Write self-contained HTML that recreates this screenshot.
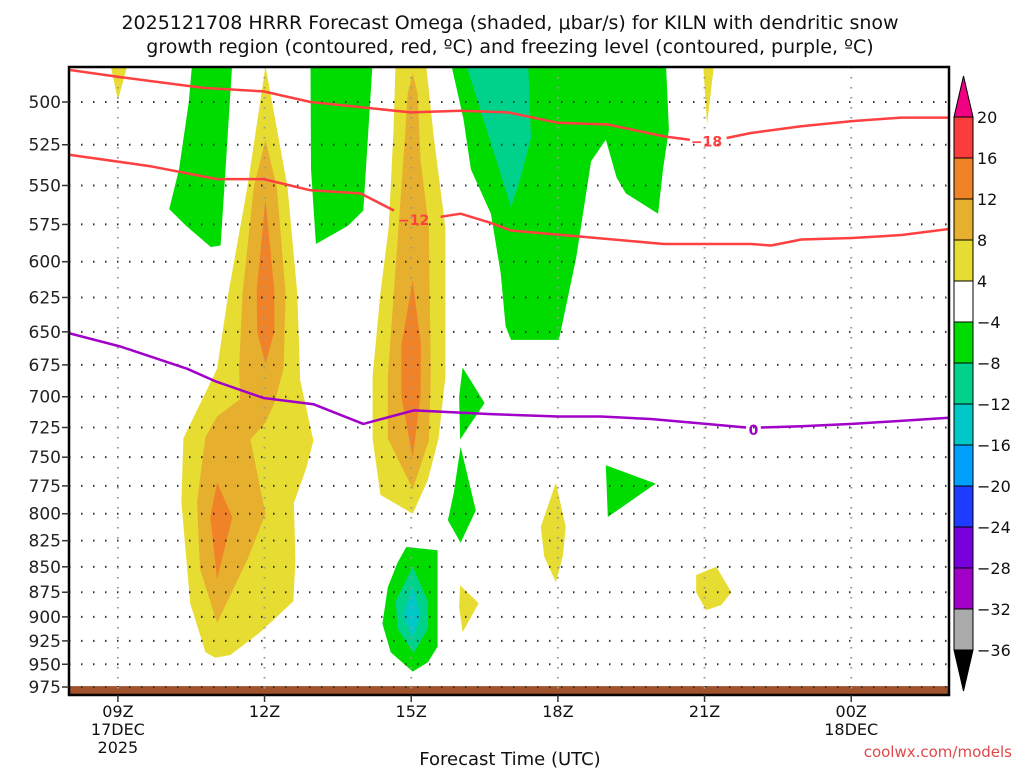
<!DOCTYPE html>
<html><head><meta charset="utf-8"><style>
html,body{margin:0;padding:0;background:#fff;width:1024px;height:768px;overflow:hidden}
svg{display:block;font-family:"DejaVu Sans","Liberation Sans",sans-serif}
</style></head><body>
<svg id="chart" width="1024" height="768" viewBox="0 0 1024 768">
<text x="510" y="29" text-anchor="middle" font-size="19" fill="#111">2025121708 HRRR Forecast Omega (shaded, μbar/s) for KILN with dendritic snow</text>
<text x="510" y="53" text-anchor="middle" font-size="19" fill="#111">growth region (contoured, red, ºC) and freezing level (contoured, purple, ºC)</text>
<g id="fills"></g>
<g id="grid"></g>
<g id="lines"></g>
<g id="axes"></g>
<g id="cbar"></g>
<text x="510" y="765" text-anchor="middle" font-size="18" fill="#111">Forecast Time (UTC)</text>
<text x="1012" y="757" text-anchor="end" font-size="15" fill="#e04848">coolwx.com/models</text>
</svg>
<script>
// axis ranges
const hourMin = 8, hourMax = 26, pTop = 480, pBot = 985;
const pressureTicks = [500,525,550,575,600,625,650,675,700,725,750,775,800,825,850,875,900,925,950,975];
const timeTicks = [9,12,15,18,21,24];
const timeLabels = [["09Z","17DEC","2025"],["12Z"],["15Z"],["18Z"],["21Z"],["00Z","18DEC"]];
const terrainTop = 974;
// shaded regions: [hour, pressure]
const greenA = [[10.52,478],[11.34,478],[11.18,550],[11.1,589],[10.9,590],[10.4,576],[10.05,565],[10.25,540],[10.45,500]];
const greenB = [[12.94,478],[14.21,478],[14.02,566],[13.7,576],[13.05,588],[12.95,540]];
const greenC = [[15.81,478],[16.07,510],[16.22,540],[16.63,568],[16.83,608],[16.93,646],[17.04,656],[18.02,656],[18.37,598],[18.68,535],[18.98,522],[19.2,545],[19.39,555],[19.8,563],[20.05,568],[20.15,540],[20.27,516],[20.21,478]];
const tealC = [[16.11,478],[17.39,478],[17.45,521],[17.24,545],[17.04,564],[16.8,540],[16.42,505]];
const yellowA = [[12.02,480],[12.47,551],[12.67,622],[12.73,687],[13.0,736],[12.85,760],[12.6,790],[12.63,843],[12.59,884],[11.91,916],[11.3,940],[10.99,943],[10.79,937],[10.48,886],[10.3,790],[10.34,734],[11.03,678],[11.26,622],[11.65,551]];
const goldA = [[12.02,522],[12.25,551],[12.43,622],[12.39,678],[12.2,705],[12.02,721],[11.71,735],[12.02,800],[11.65,843],[11.03,906],[10.68,852],[10.62,789],[10.79,733],[11.03,716],[11.5,702],[11.48,678],[11.55,622],[11.78,551]];
const orangeA1 = [[12.02,559],[12.2,620],[12.2,650],[12.02,674],[11.85,650],[11.84,620]];
const orangeA2 = [[11.03,772],[11.34,803],[11.03,862],[10.89,803]];
const yellowB = [[14.68,478],[15.3,478],[15.46,520],[15.7,577],[15.7,684],[15.56,734],[15.34,770],[15.03,800],[14.37,783],[14.21,734],[14.21,684],[14.37,622],[14.54,577],[14.64,515]];
const goldB = [[15.03,484],[15.13,495],[15.19,534],[15.36,577],[15.4,684],[15.36,736],[15.03,778],[14.52,734],[14.52,684],[14.74,577],[14.84,534],[14.93,495]];
const orangeB = [[15.03,613],[15.2,660],[15.19,700],[15.03,750],[14.8,700],[14.8,660]];
const greenD = [[14.9,831],[15.54,834],[15.54,931],[15.34,948],[15.03,958],[14.58,937],[14.41,907],[14.52,870],[14.72,846]];
const tealD = [[15.03,850],[15.34,884],[15.34,912],[15.05,938],[14.72,912],[14.68,884]];
const cyanD = [[15.03,870],[15.19,898],[15.03,922],[14.84,898]];
const greenE = [[16.05,677],[16.5,705],[16.0,735],[15.98,700]];
const greenF = [[16.01,741],[16.32,797],[16.01,827],[15.75,806],[15.87,781]];
const yellowG = [[16.0,868],[16.38,886],[16.05,916],[15.98,890]];
const yellowH = [[17.96,772],[18.16,812],[18.1,840],[17.96,865],[17.72,840],[17.65,812]];
const greenI = [[18.98,757],[20.0,773],[19.02,803]];
const yellowJ = [[20.83,858],[21.24,850],[21.55,875],[21.34,888],[21.03,893],[20.83,875]];
const yellowK = [[20.97,478],[21.2,478],[21.05,513]];
const yellowL = [[8.84,478],[9.21,478],[9.0,499]];
// contours
const dgzMinus18 = [[8.0,482],[9.05,486],[10.75,492],[11.98,494],[12.94,500],[14.99,506],[16.01,505],[16.98,506],[18.0,512],[19.02,513],[20.17,520],[20.7,522],null,[21.45,521],[21.95,518],[22.98,514],[24.02,511],[25.03,509],[26.0,509]];
const dgzMinus12 = [[8.0,531],[9.66,538],[11.03,546],[11.98,546],[12.94,553],[13.96,555],[14.65,566],null,[15.6,570],[16.01,568],[16.63,574],[17.04,579],[20.17,588],[21.95,588],[22.36,589],[22.98,585],[24.02,584],[25.03,582],[26.0,578]];
const freezing0 = [[8.0,651],[9.05,661],[10.42,678],[11.01,688],[11.98,701],[13.0,706],[14.02,722],[15.05,711],[16.63,714],[18.0,716],[18.88,716],[19.9,718],[21.03,722],[21.85,725],null,[22.15,725],[22.98,724],[24.02,722],[26.0,717]];
const contourLabels = [["−18",21.04,523,"#ff4040"],["−12",15.05,572,"#ff4040"],["0",22.0,727,"#a000c8"]];
const cbarLevels = ["20","16","12","8","4","−4","−8","−12","−16","−20","−24","−28","−32","−36"];
const cbarColors = ["#fa3c3c","#f08228","#e6af2d","#e6dc32","#ffffff","#00dc00","#00d28c","#00c8c8","#00a0ff","#1e3cff","#7800dc","#a000c8","#aaaaaa"];

const L=69,R=949,T=67,B=695;
const X=h=>L+(h-hourMin)*(R-L)/(hourMax-hourMin);
const Y=p=>102+876*Math.log(p/500);
const NS="http://www.w3.org/2000/svg";
function mk(tag,attrs,parent){const e=document.createElementNS(NS,tag);for(const k in attrs)e.setAttribute(k,attrs[k]);parent.appendChild(e);return e;}
const fills=document.getElementById('fills');
const clip=mk('clipPath',{id:'pc'},mk('defs',{},document.getElementById('chart')));
mk('rect',{x:L,y:T,width:R-L,height:B-T},clip);
fills.setAttribute('clip-path','url(#pc)');
const polys=[[greenA,"#00dc00","green-a"],[greenB,"#00dc00","green-b"],[greenC,"#00dc00","green-c"],[tealC,"#00d28c","teal-c"],
[yellowA,"#e6dc32","yellow-a"],[goldA,"#e6af2d","gold-a"],[orangeA1,"#f08228","orange-a1"],[orangeA2,"#f08228","orange-a2"],
[yellowB,"#e6dc32","yellow-b"],[goldB,"#e6af2d","gold-b"],[orangeB,"#f08228","orange-b"],
[greenD,"#00dc00","green-d"],[tealD,"#00d28c","teal-d"],[cyanD,"#00c8c8","cyan-d"],
[greenE,"#00dc00","green-e"],[greenF,"#00dc00","green-f"],[yellowG,"#e6dc32","yellow-g"],[yellowH,"#e6dc32","yellow-h"],
[greenI,"#00dc00","green-i"],[yellowJ,"#e6dc32","yellow-j"],[yellowK,"#e6dc32","yellow-k"],[yellowL,"#e6dc32","yellow-l"]];
polys.forEach(([pts,col,name])=>{
  const e=mk('polygon',{points:pts.map(q=>X(q[0]).toFixed(1)+","+Y(q[1]).toFixed(1)).join(" "),fill:col},fills);
  
  
});
// terrain
const terr=mk('rect',{x:L,y:Y(terrainTop),width:R-L,height:B-Y(terrainTop),fill:"#a0522d"},fills);



// grid
const grid=document.getElementById('grid');
pressureTicks.forEach(p=>{
  const g=mk('line',{x1:L,x2:R,y1:Y(p),y2:Y(p),stroke:"#333","stroke-width":2,"stroke-dasharray":"1.5 10.5"},grid);
  
  
});
timeTicks.forEach(h=>{
  const g=mk('line',{x1:X(h),x2:X(h),y1:T,y2:B,stroke:"#999","stroke-width":2,"stroke-dasharray":"1.5 8.5"},grid);
  
  
});

// contours
const lines=document.getElementById('lines');
lines.setAttribute('clip-path','url(#pc)');
function path(arr){let d="",m=true;arr.forEach(q=>{if(!q){m=true;return;}d+=(m?"M":"L")+X(q[0]).toFixed(1)+","+Y(q[1]).toFixed(1);m=false;});return d;}
[[dgzMinus18,"#ff4040","contour-minus18"],[dgzMinus12,"#ff4040","contour-minus12"],[freezing0,"#a000c8","freezing-level"]].forEach(([a,c,n])=>{
  const e=mk('path',{d:path(a),fill:"none",stroke:c,"stroke-width":2.5,"stroke-linejoin":"round"},lines);
  
  
});
contourLabels.forEach(([t,h,p,c])=>{
  const e=mk('text',{x:X(h),y:Y(p)+5,"text-anchor":"middle","font-size":14,"font-weight":"bold",fill:c},lines);
  e.textContent=t;
  
  
});

// axes
const ax=document.getElementById('axes');
const fr=mk('rect',{x:L,y:T,width:R-L,height:B-T,fill:"none",stroke:"#000","stroke-width":2.5},ax);


pressureTicks.forEach(p=>{
  mk('line',{x1:L-7,x2:L,y1:Y(p),y2:Y(p),stroke:"#333","stroke-width":1.5},ax);
  const t=mk('text',{x:L-8,y:Y(p)+6,"text-anchor":"end","font-size":17,fill:"#222"},ax);
  t.textContent=p;
  
  
});
timeTicks.forEach((h,i)=>{
  mk('line',{x1:X(h),x2:X(h),y1:B,y2:B+7,stroke:"#333","stroke-width":1.5},ax);
  timeLabels[i].forEach((s,j)=>{
    const t=mk('text',{x:X(h),y:B+22+j*18,"text-anchor":"middle","font-size":16,fill:"#111"},ax);
    t.textContent=s;
    
    
  });
});

// colorbar
const cb=document.getElementById('cbar');
const cx=954,cw=19,c0=117,ch=41;
mk('polygon',{points:`${cx},${c0} ${cx+cw},${c0} ${cx+cw/2},${c0-41}`,fill:"#f00082",stroke:"#000","stroke-width":1},cb);
cbarColors.forEach((c,i)=>{
  const r=mk('rect',{x:cx,y:c0+i*ch,width:cw,height:ch,fill:c,stroke:"#000","stroke-width":1},cb);
  
  
});
const cEnd=c0+cbarColors.length*ch;
mk('polygon',{points:`${cx},${cEnd} ${cx+cw},${cEnd} ${cx+cw/2},${cEnd+41}`,fill:"#000",stroke:"#000","stroke-width":1},cb);
cbarLevels.forEach((s,i)=>{
  const t=mk('text',{x:cx+23,y:c0+i*ch+6,"font-size":16,fill:"#111"},cb);
  t.textContent=s;
  
  
});
</script>
</body></html>
